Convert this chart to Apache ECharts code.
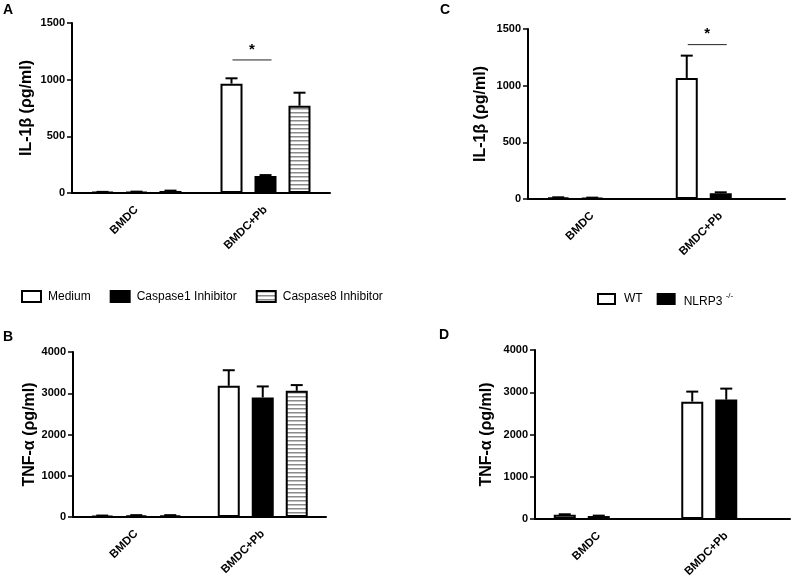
<!DOCTYPE html>
<html>
<head>
<meta charset="utf-8">
<script src="https://cdn.jsdelivr.net/npm/echarts@6/dist/echarts.min.js"></script>
<style>
  html, body { margin: 0; padding: 0; background: #fff; }
  #main { width: 794px; height: 584px; }
</style>
</head>
<body>
<div id="main"></div>
<script>
// categories
const categories = ["BMDC", "BMDC+Pb"];

// A: IL-1b, inhibitors
const aMedium = [8, 965];
const aMediumErr = [2, 47];
const aCasp1 = [10, 150];
const aCasp1Err = [2, 8];
const aCasp8 = [18, 770];
const aCasp8Err = [3, 115];
const aSig = 1174;

// B: TNF-a, inhibitors
const bMedium = [30, 3180];
const bMediumErr = [5, 378];
const bCasp1 = [40, 2900];
const bCasp1Err = [5, 265];
const bCasp8 = [40, 3060];
const bCasp8Err = [5, 138];

// C: IL-1b, WT vs NLRP3-/-
const cWT = [12, 1068];
const cWTErr = [3, 197];
const cKO = [10, 51];
const cKOErr = [2, 8];
const cSig = 1362;

// D: TNF-a, WT vs NLRP3-/-
const dWT = [100, 2778];
const dWTErr = [12, 237];
const dKO = [70, 2826];
const dKOErr = [10, 260];

const ilTicks = { min: 0, max: 1500, interval: 500 };
const tnfTicks = { min: 0, max: 4000, interval: 1000 };

const FONT = "'Liberation Sans', Arial, sans-serif";
const BAR_W = 22;
const SLOT = 34; // px between bar centres

// horizontal stripes for caspase8
function stripes() {
  const c = document.createElement("canvas");
  c.width = 4;
  c.height = 4;
  const g = c.getContext("2d");
  g.fillStyle = "#fff";
  g.fillRect(0, 0, 4, 4);
  g.fillStyle = "#8a8a8a";
  g.fillRect(0, 0, 4, 1.5);
  return c;
}

const white = { color: "#fff", borderColor: "#000", borderWidth: 2 };
const black = { color: "#000", borderColor: "#000", borderWidth: 2 };
const striped = { color: { image: stripes(), repeat: "repeat" }, borderColor: "#000", borderWidth: 2 };

function bar(name, data, style, idx) {
  return {
    name: name,
    type: "bar",
    xAxisIndex: idx,
    yAxisIndex: idx,
    data: data,
    barWidth: BAR_W,
    barGap: "54.5%",
    itemStyle: style,
    silent: true,
    animation: false,
  };
}

// upper error bars, slot = -1 / 0 / 1 position within the group
function errBars(mean, err, slot, idx) {
  return {
    type: "custom",
    xAxisIndex: idx,
    yAxisIndex: idx,
    silent: true,
    animation: false,
    z: 3,
    data: mean.map((m, i) => [i, m, m + err[i], slot]),
    renderItem(params, api) {
      const p0 = api.coord([api.value(0), api.value(1)]);
      const p1 = api.coord([api.value(0), api.value(2)]);
      const x = p0[0] + api.value(3) * SLOT;
      const st = { stroke: "#000", lineWidth: 2 };
      return {
        type: "group",
        children: [
          { type: "line", shape: { x1: x, y1: p0[1], x2: x, y2: p1[1] }, style: st },
          { type: "line", shape: { x1: x - 6, y1: p1[1], x2: x + 6, y2: p1[1] }, style: st },
        ],
      };
    },
  };
}

// significance line between first two bars of a category
function sig(cat, value, idx) {
  return {
    type: "custom",
    xAxisIndex: idx,
    yAxisIndex: idx,
    silent: true,
    animation: false,
    data: [[cat, value]],
    renderItem(params, api) {
      const p = api.coord([api.value(0), api.value(1)]);
      const x1 = p[0] - SLOT + 1;
      const x2 = p[0] + 6;
      return {
        type: "group",
        children: [
          { type: "line", shape: { x1: x1, y1: p[1], x2: x2, y2: p[1] }, style: { stroke: "#222", lineWidth: 1 } },
          {
            type: "text",
            style: {
              text: "*",
              x: (x1 + x2) / 2,
              y: p[1] - 3,
              align: "center",
              verticalAlign: "bottom",
              font: "bold 15px " + FONT,
              fill: "#000",
            },
          },
        ],
      };
    },
  };
}

function xAxis(idx) {
  return {
    type: "category",
    gridIndex: idx,
    data: categories,
    axisLine: { lineStyle: { color: "#000", width: 2 } },
    axisTick: { alignWithLabel: true, length: 5, lineStyle: { color: "#000", width: 1.5 } },
    axisLabel: { rotate: 45, margin: 15, color: "#000", fontSize: 11.5, fontWeight: "bold", fontFamily: FONT },
    splitLine: { show: false },
  };
}

function yAxis(idx, ticks, name, gap) {
  return {
    type: "value",
    gridIndex: idx,
    min: ticks.min,
    max: ticks.max,
    interval: ticks.interval,
    name: name,
    nameLocation: "middle",
    nameGap: gap,
    nameTextStyle: { color: "#000", fontSize: 16, fontWeight: "bold", fontFamily: FONT },
    axisLine: { show: true, lineStyle: { color: "#000", width: 2 } },
    axisTick: { show: true, length: 5, lineStyle: { color: "#000", width: 1.5 } },
    axisLabel: {
      color: "#000",
      fontSize: 11,
      fontWeight: "bold",
      fontFamily: FONT,
      margin: 7,
      formatter: (v) => String(v),
    },
    splitLine: { show: false },
  };
}

function letter(txt, x, y) {
  return {
    type: "text",
    left: x,
    top: y,
    style: { text: txt, font: "bold 14px " + FONT, fill: "#000" },
  };
}

const chart = echarts.init(document.getElementById("main"));
chart.setOption({
  animation: false,
  backgroundColor: "#fff",
  grid: [
    { left: 72, top: 23, width: 258, height: 170 },
    { left: 73, top: 352, width: 253, height: 165 },
    { left: 528, top: 29, width: 257, height: 170 },
    { left: 535, top: 350, width: 255, height: 169 },
  ],
  xAxis: [xAxis(0), xAxis(1), xAxis(2), xAxis(3)],
  yAxis: [
    yAxis(0, ilTicks, "IL-1β (ρg/ml)", 37),
    yAxis(1, tnfTicks, "TNF-α (ρg/ml)", 34),
    yAxis(2, ilTicks, "IL-1β (ρg/ml)", 39),
    yAxis(3, tnfTicks, "TNF-α (ρg/ml)", 40),
  ],
  legend: [
    {
      left: 16,
      top: 285,
      icon: "rect",
      itemWidth: 19,
      itemHeight: 11,
      itemGap: 19,
      selectedMode: false,
      data: ["Medium", "Caspase1 Inhibitor", "Caspase8 Inhibitor"],
      textStyle: { color: "#000", fontSize: 12, fontFamily: FONT, padding: [0, 0, 0, 2] },
    },
    {
      left: 592,
      top: 287,
      icon: "rect",
      itemWidth: 17,
      itemHeight: 10,
      itemGap: 14,
      selectedMode: false,
      data: ["WT", "NLRP3"],
      formatter: (n) => (n === "NLRP3" ? "{low|NLRP3} {sup|-/-}" : n),
      textStyle: {
        color: "#000",
        fontSize: 12,
        fontFamily: FONT,
        padding: [0, 0, 0, 4],
        rich: {
          low: { fontSize: 12, fontFamily: FONT, color: "#000", padding: [5, 0, 0, 0] },
          sup: { fontSize: 8, fontFamily: FONT, color: "#000", padding: [0, 0, 6, 0] },
        },
      },
    },
  ],
  graphic: [letter("A", 3, 3), letter("B", 3, 330), letter("C", 440, 3), letter("D", 439, 328)],
  series: [
    bar("Medium", aMedium, white, 0),
    bar("Caspase1 Inhibitor", aCasp1, black, 0),
    bar("Caspase8 Inhibitor", aCasp8, striped, 0),
    errBars(aMedium, aMediumErr, -1, 0),
    errBars(aCasp1, aCasp1Err, 0, 0),
    errBars(aCasp8, aCasp8Err, 1, 0),
    sig(1, aSig, 0),

    bar("Medium", bMedium, white, 1),
    bar("Caspase1 Inhibitor", bCasp1, black, 1),
    bar("Caspase8 Inhibitor", bCasp8, striped, 1),
    errBars(bMedium, bMediumErr, -1, 1),
    errBars(bCasp1, bCasp1Err, 0, 1),
    errBars(bCasp8, bCasp8Err, 1, 1),

    bar("WT", cWT, white, 2),
    bar("NLRP3", cKO, black, 2),
    bar("", [null, null], white, 2), // empty third slot, keeps GraphPad spacing
    errBars(cWT, cWTErr, -1, 2),
    errBars(cKO, cKOErr, 0, 2),
    sig(1, cSig, 2),

    bar("WT", dWT, white, 3),
    bar("NLRP3", dKO, black, 3),
    bar("", [null, null], white, 3),
    errBars(dWT, dWTErr, -1, 3),
    errBars(dKO, dKOErr, 0, 3),
  ],
});
</script>
</body>
</html>
